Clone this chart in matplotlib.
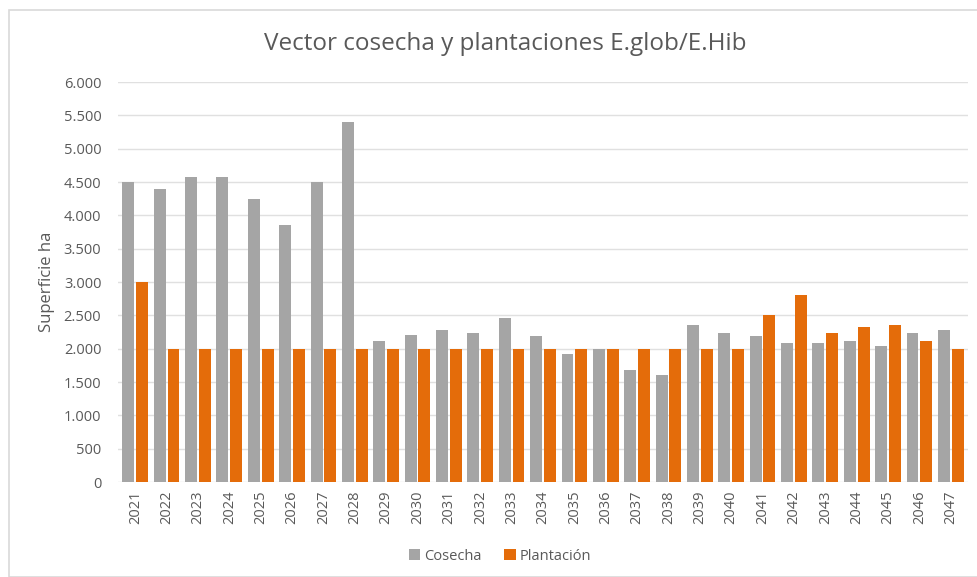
import matplotlib.pyplot as plt
import matplotlib.ticker as mticker
import numpy as np
from matplotlib.patches import Rectangle

# Data
years = [str(y) for y in range(2021, 2048)]
cosecha = [4500, 4400, 4570, 4570, 4250, 3850, 4500, 5400, 2120, 2200,
           2280, 2240, 2460, 2190, 1920, 2000, 1680, 1600, 2360, 2240,
           2190, 2080, 2080, 2120, 2040, 2240, 2280]
plantacion = [3000, 2000, 2000, 2000, 2000, 2000, 2000, 2000, 2000, 2000,
              2000, 2000, 2000, 2000, 2000, 2000, 2000, 2000, 2000, 2000,
              2500, 2800, 2240, 2320, 2360, 2120, 2000]
yticks = list(range(0, 6001, 500))

GRAY = '#A5A5A5'
ORANGE = '#E46C0A'
TXT = '#595959'

plt.rcParams['font.family'] = ['Open Sans', 'DejaVu Sans']

fig = plt.figure(figsize=(9.77, 5.77), dpi=100)
# chart frame like the Excel chart area
fig.patches.append(Rectangle((9 / 977, 0), 1, 1 - 10 / 577, transform=fig.transFigure,
                             fill=False, edgecolor='#D9D9D9', linewidth=1.2))

ax = fig.add_axes([118 / 977, 1 - 482 / 577, 850 / 977, 400 / 577])

x = np.arange(len(years))
w = 0.38
ax.bar(x - 0.22, cosecha, width=w, color=GRAY, label='Cosecha', zorder=3)
ax.bar(x + 0.22, plantacion, width=w, color=ORANGE, label='Plantación', zorder=3)

ax.set_xlim(-0.55, len(years) - 0.45)
ax.set_ylim(0, 6000)
ax.set_yticks(yticks)
ax.yaxis.set_major_formatter(mticker.FuncFormatter(lambda v, p: f"{int(v):,}".replace(',', '.')))
ax.set_xticks(x)
ax.set_xticklabels(years, rotation=90)
ax.tick_params(axis='both', length=0, labelsize=10.5, colors=TXT)
ax.tick_params(axis='y', pad=12)
ax.tick_params(axis='x', pad=6)
ax.grid(axis='y', color='#E0E0E0', linewidth=1, zorder=0)
for s in ax.spines.values():
    s.set_visible(False)

ax.set_ylabel('Superficie ha', fontsize=12, color=TXT, labelpad=6)

fig.text(505 / 977, 1 - 44 / 577, 'Vector cosecha y plantaciones E.glob/E.Hib',
         ha='center', va='center', fontsize=17.5, color=TXT)

fig.legend(loc='center', bbox_to_anchor=(500 / 977, 1 - 556 / 577), ncol=2, frameon=False,
           fontsize=10.5, handlelength=0.8, handleheight=0.8, handletextpad=0.3,
           columnspacing=1.5, labelcolor=TXT)

fig.savefig('out.png', dpi=100)
